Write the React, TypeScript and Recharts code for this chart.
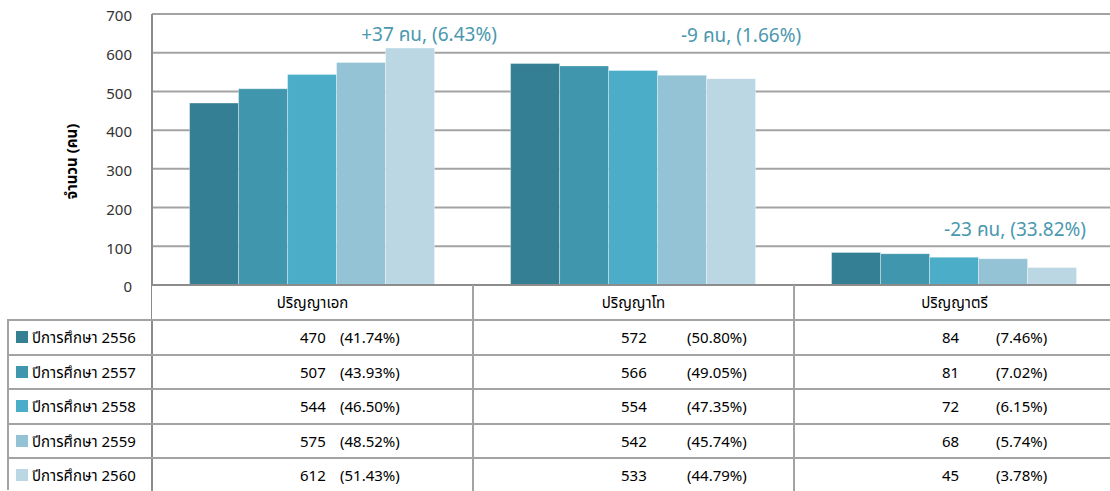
import { BarChart, Bar, XAxis, YAxis, CartesianGrid, LabelList } from 'recharts'

const categories = ['ปริญญาเอก', 'ปริญญาโท', 'ปริญญาตรี']
const years = ['ปีการศึกษา 2556', 'ปีการศึกษา 2557', 'ปีการศึกษา 2558', 'ปีการศึกษา 2559', 'ปีการศึกษา 2560']
const y2556 = [470, 572, 84]
const y2557 = [507, 566, 81]
const y2558 = [544, 554, 72]
const y2559 = [575, 542, 68]
const y2560 = [612, 533, 45]
const pct2556 = ['(41.74%)', '(50.80%)', '(7.46%)']
const pct2557 = ['(43.93%)', '(49.05%)', '(7.02%)']
const pct2558 = ['(46.50%)', '(47.35%)', '(6.15%)']
const pct2559 = ['(48.52%)', '(45.74%)', '(5.74%)']
const pct2560 = ['(51.43%)', '(44.79%)', '(3.78%)']
const changes = ['+37 คน, (6.43%)', '-9 คน, (1.66%)', '-23 คน, (33.82%)']
const yTicks = [0, 100, 200, 300, 400, 500, 600, 700]

const colors = ['#357f94', '#4096ad', '#4badc8', '#93c3d5', '#bad7e3']
const values = [y2556, y2557, y2558, y2559, y2560]
const pcts = [pct2556, pct2557, pct2558, pct2559, pct2560]

const data = categories.map((c, i) => ({
  name: c,
  s0: y2556[i],
  s1: y2557[i],
  s2: y2558[i],
  s3: y2559[i],
  s4: y2560[i],
}))

// layout
const FONT = '"Noto Sans", "Noto Sans Thai", sans-serif'
const PLOT_L = 152
const COL_W = 321
const TOP = 14
const BASE_Y = 285
const HEAD_H = 35
const ROW_H = 34.6
const GRID = '#a3a3a3'
const ANNOT = '#4a98ae'
const annotOffsets = [
  { dx: 19, dy: -12 },
  { dx: 10, dy: -42 },
  { dx: -37, dy: -37 },
]
const pctOffsets = [188, 214, 202]

const Annotation = (props: any) => {
  const { x, y, width, index } = props
  const o = annotOffsets[index]
  return (
    <text
      x={x + width / 2 + o.dx}
      y={y + o.dy}
      textAnchor="middle"
      dominantBaseline="middle"
      fill={ANNOT}
      fontSize={19}
      fontFamily={FONT}
    >
      {changes[index]}
    </text>
  )
}

export default function App() {
  const tableTop = BASE_Y + HEAD_H
  return (
    <div style={{ position: 'absolute', left: 0, top: 0, width: 1110, height: 491, overflow: 'hidden', background: '#fff', fontFamily: FONT }}>
      <BarChart
        width={PLOT_L + COL_W * 3}
        height={BASE_Y + 20}
        data={data}
        margin={{ top: TOP, right: 0, left: 0, bottom: 20 }}
        barCategoryGap="11.7%"
        barGap={0}
      >
        <CartesianGrid horizontal vertical={false} stroke={GRID} strokeWidth={2} />
        <XAxis dataKey="name" hide />
        <YAxis
          width={PLOT_L}
          domain={[0, 700]}
          ticks={yTicks}
          interval={0}
          tickLine={false}
          tickSize={0}
          tickMargin={20}
          axisLine={false}
          tick={{ fill: '#333', fontSize: 15, fontFamily: FONT, dy: 2 }}
          label={{
            value: 'จำนวน (คน)',
            angle: -90,
            position: 'insideLeft',
            offset: 72,
            dy: 12,
            style: { fill: '#000', fontSize: 15, fontWeight: 'bold', fontFamily: FONT, textAnchor: 'middle' },
          }}
        />
        {colors.map((c, i) => (
          <Bar key={i} dataKey={'s' + i} fill={c} stroke="#ffffff" strokeOpacity={0.35} strokeWidth={1} isAnimationActive={false}>
            {i === 4 && <LabelList dataKey="s4" content={Annotation} />}
          </Bar>
        ))}
      </BarChart>

      {/* axis lines */}
      <div style={{ position: 'absolute', left: PLOT_L - 1, top: TOP, width: 2, height: 491 - TOP, background: '#8c8c8c' }} />
      <div style={{ position: 'absolute', left: PLOT_L, top: BASE_Y - 1, width: 1110 - PLOT_L, height: 2, background: '#8c8c8c' }} />

      {/* header row */}
      {categories.map((c, i) => (
        <div
          key={c}
          style={{
            position: 'absolute',
            left: PLOT_L + COL_W * i,
            top: BASE_Y + 1,
            width: COL_W,
            height: HEAD_H - 2,
            lineHeight: HEAD_H - 2 + 'px',
            textAlign: 'center',
            fontSize: 15,
            color: '#000',
            background: '#fff',
          }}
        >
          {c}
        </div>
      ))}
      {[1, 2].map((i) => (
        <div key={i} style={{ position: 'absolute', left: PLOT_L + COL_W * i - 1, top: BASE_Y, width: 2, height: 491 - BASE_Y, background: GRID }} />
      ))}

      {/* body rows */}
      {years.map((yr, r) => {
        const top = tableTop + ROW_H * r
        return (
          <div key={yr}>
            <div style={{ position: 'absolute', left: 7, top: top - 1, width: 1110 - 7, height: 2, background: GRID }} />
            <div style={{ position: 'absolute', left: 16, top: top + 11, width: 12, height: 12, background: colors[r] }} />
            <div style={{ position: 'absolute', left: 32, top, height: ROW_H, lineHeight: ROW_H + 'px', fontSize: 15, color: '#000' }}>{yr}</div>
            {categories.map((c, i) => (
              <div key={c}>
                <div style={{ position: 'absolute', left: PLOT_L + COL_W * i + 148, top, lineHeight: ROW_H + 'px', fontSize: 15, color: '#000' }}>
                  {values[r][i]}
                </div>
                <div style={{ position: 'absolute', left: PLOT_L + COL_W * i + pctOffsets[i], top, lineHeight: ROW_H + 'px', fontSize: 15, color: '#000' }}>
                  {pcts[r][i]}
                </div>
              </div>
            ))}
          </div>
        )
      })}
      <div style={{ position: 'absolute', left: 7, top: tableTop - 1, width: 2, height: 491 - tableTop, background: GRID }} />
    </div>
  )
}
